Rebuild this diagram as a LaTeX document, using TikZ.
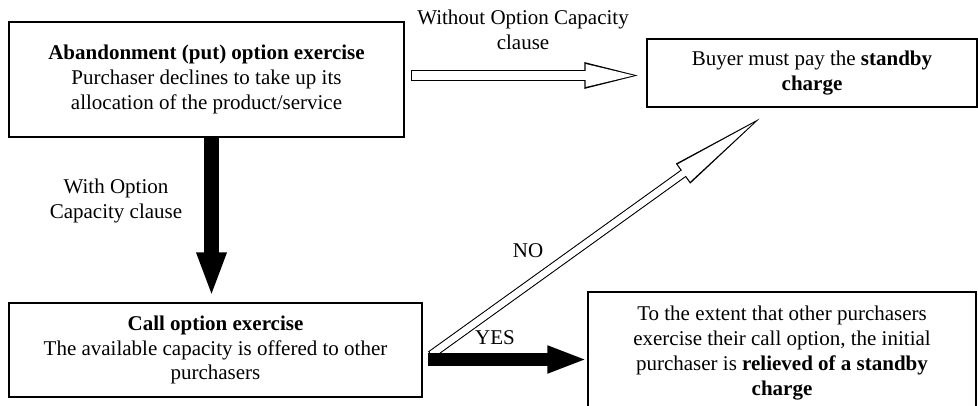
\documentclass[tikz,border=0pt]{standalone}
\usepackage{fontspec}
\setmainfont{Liberation Serif}
\usetikzlibrary{arrows.meta,calc}

\tikzset{hollowarrow/.style n args={3}{line width=#1,-{Triangle[length=#2,width=#3]},
    /utils/exec={\pgfmathsetmacro\hinset{0.6/sin(atan(#3/2/#2))}%
                 \pgfmathsetmacro\hlen{#2-0.6-\hinset}%
                 \pgfmathsetmacro\hwid{#3*\hlen/#2}},
    postaction={draw,white,line width=#1-1.2pt,-,shorten <=0.6pt,shorten >=#2/2},
    postaction={draw,white,line width=#1-1.2pt,shorten <=0.6pt,shorten >=\hinset pt,
                -{Triangle[length=\hlen pt,width=\hwid pt]}}}}

\begin{document}
\begin{tikzpicture}[x=0.5pt,y=-0.5pt]
            \tikzstyle{box}=[rectangle,draw=black,line width=0.7pt,align=center,inner sep=0pt,font=\fontsize{10.5}{12.4}\selectfont]
            \tikzstyle{lbl}=[align=center,inner sep=0pt,font=\fontsize{10.5}{12.4}\selectfont]
            \tikzstyle{solidarrow}=[line width=7.5pt,-{Triangle[length=22.5pt,width=13.5pt]}]
            \useasboundingbox (0,0) rectangle (978,406);

                    \node[box,minimum width=197.5pt,minimum height=57.5pt] (B-0) at (206.5,79.5)
                        {\textbf{Abandonment (put) option exercise}\\Purchaser declines to take up its\\allocation of the product/service};
                    \node[box,minimum width=165pt,minimum height=34pt] (B-1) at (812,73)
                        {Buyer must pay the \textbf{standby}\\\textbf{charge}};

                    \node[box,minimum width=206.5pt,minimum height=47pt] (B-2) at (215.5,350)
                        {\textbf{Call option exercise}\\The available capacity is offered to other\\purchasers};
                    \node[box,minimum width=194pt,minimum height=61pt] (B-3) at (782,353)
                        {To the extent that other purchasers\\exercise their call option, the initial\\purchaser is \textbf{relieved of a standby}\\\textbf{charge}};

                    \node[lbl] (L-0) at (523,29.5) {Without Option Capacity\\clause};
                    \node[lbl] (L-1) at (116,201) {With Option\\Capacity clause};
                    \node[lbl] (L-2) at (528,251) {NO};
                    \node[lbl] (L-3) at (495,338) {YES};

                    \coordinate (C-0) at ($(B-2.east)+(5,9.5)$);
                    \coordinate (C-1) at ($(B-1.south)+(-47,7)$);

                \draw[hollowarrow={5.5pt}{30pt}{11.5pt}] ($(B-0.east |- B-1.west)+(6,2.5)$) -- ($(B-1.west)+(-2,2.5)$);
                \draw[solidarrow] ($(B-0.south)+(5,0)$) -- ($(B-0.south |- B-2.north)+(5,-5)$);
                \draw[hollowarrow={4.35pt}{50.5pt}{11pt}] ($(C-0)+(3,-4.5)$) -- (C-1);
                \draw[solidarrow,line width=6.5pt,-{Triangle[length=20pt,width=12.5pt]}] (C-0) -- (C-0 -| B-3.west);
        \end{tikzpicture}
\end{document}
